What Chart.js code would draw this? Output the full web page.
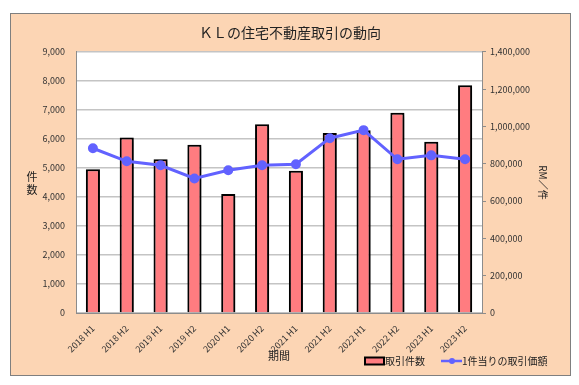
<!DOCTYPE html>
<html>
<head>
<meta charset="utf-8">
<script src="https://cdn.jsdelivr.net/npm/chart.js@4.4.0/dist/chart.umd.min.js"></script>
<style>
  body { margin: 0; background: #fff; }
  #wrap { width: 579px; height: 385px; }
</style>
</head>
<body>
<div id="wrap"><canvas id="context" width="579" height="385"></canvas></div>
<script>
// data
const periods = ["2018 H1", "2018 H2", "2019 H1", "2019 H2", "2020 H1", "2020 H2",
                 "2021 H1", "2021 H2", "2022 H1", "2022 H2", "2023 H1", "2023 H2"];
const dealCount = [4950, 6050, 5300, 5800, 4100, 6500, 4900, 6200, 6300, 6900, 5900, 7850];
const valuePerDeal = [883000, 813000, 792000, 721000, 765000, 792000, 797000, 937000, 980000, 824000, 845000, 824000];
const leftTicks = [0, 1000, 2000, 3000, 4000, 5000, 6000, 7000, 8000, 9000];
const rightTicks = [0, 200000, 400000, 600000, 800000, 1000000, 1200000, 1400000];

const font = "'Noto Sans CJK JP', 'Noto Sans', sans-serif";
const peach = "#FCD5B4";

// frame, left axis title, legend
const decor = {
  id: "decor",
  beforeDraw(chart) {
    let c = chart.ctx;
    c.save();
    c.fillStyle = "#fff";
    c.fillRect(0, 0, chart.width, chart.height);
    c.fillStyle = peach;
    c.fillRect(10, 13, 560, 362);
    c.strokeStyle = "#7f7f7f";
    c.lineWidth = 1;
    c.strokeRect(10.5, 13.5, 560, 362);
    let a = chart.chartArea;
    c.fillStyle = "#fff";
    c.fillRect(a.left, a.top, a.right - a.left, a.bottom - a.top);
    c.restore();
  },
  beforeDatasetDraw(chart, args) {
    if (args.meta.type == "bar") {
      let c = chart.ctx;
      c.save();
      c.shadowColor = "rgba(0,0,0,0.45)";
      c.shadowBlur = 4;
      c.shadowOffsetX = 2;
      c.shadowOffsetY = 2;
    }
  },
  afterDatasetDraw(chart, args) {
    if (args.meta.type == "bar") chart.ctx.restore();
  },
  afterDraw(chart) {
    let c = chart.ctx;
    c.save();
    c.fillStyle = "#222";
    c.font = "11px " + font;
    c.textAlign = "center";
    c.textBaseline = "middle";
    c.fillText("件", 32, 177);
    c.fillText("数", 32, 190);

    // legend
    let bar = chart.data.datasets[1];
    let line = chart.data.datasets[0];
    let y = 361;
    c.fillStyle = bar.backgroundColor;
    c.fillRect(365, y - 3.5, 19, 7);
    c.strokeStyle = "#000";
    c.lineWidth = 2;
    c.strokeRect(365, y - 3.5, 19, 7);
    c.fillStyle = "#222";
    c.textAlign = "left";
    c.font = "10px " + font;
    c.fillText(bar.label, 385, y);
    c.strokeStyle = line.borderColor;
    c.lineWidth = 2.5;
    c.beginPath();
    c.moveTo(441, y);
    c.lineTo(462, y);
    c.stroke();
    c.fillStyle = line.borderColor;
    c.beginPath();
    c.arc(452, y, 3, 0, Math.PI * 2);
    c.fill();
    c.fillStyle = "#222";
    c.fillText(line.label, 462, y);
    c.restore();
  }
};

Chart.defaults.font.family = font;
Chart.defaults.color = "#333";

const ctx = document.getElementById("context");
new Chart(ctx, {
  type: "bar",
  data: {
    labels: periods,
    datasets: [
      { type: "line", label: "1件当りの取引価額", data: valuePerDeal, yAxisID: "y1", order: 0,
        borderColor: "#6262FF", backgroundColor: "#6262FF", borderWidth: 3,
        pointRadius: 3.5, pointHoverRadius: 3.5, tension: 0 },
      { type: "bar", label: "取引件数", data: dealCount, yAxisID: "y", order: 1,
        backgroundColor: "#FF7C80", borderColor: "#000", borderWidth: 2,
        barPercentage: 0.52, categoryPercentage: 0.8 }
    ]
  },
  plugins: [decor],
  options: {
    responsive: false,
    animation: false,
    devicePixelRatio: 1,
    layout: { padding: { left: 10, top: 13, right: 9, bottom: 10 } },
    plugins: {
      legend: { display: false },
      tooltip: { enabled: false },
      title: {
        display: true,
        text: "ＫＬの住宅不動産取引の動向",
        color: "#222",
        font: { size: 14, weight: "normal" },
        padding: { top: 11, bottom: 11 }
      }
    },
    scales: {
      x: {
        grid: { display: false },
        border: { color: "#8c8c8c" },
        ticks: { font: { size: 9 }, maxRotation: 45, minRotation: 45, padding: 2 },
        title: { display: true, text: "期間", color: "#222", font: { size: 11 }, padding: { top: 0, bottom: 13 } },
        afterFit(s) { s.height = 62; }
      },
      y: {
        min: 0, max: 9000,
        afterBuildTicks(s) { s.ticks = leftTicks.map(v => ({ value: v })); },
        grid: { color: "#c4c4c4", lineWidth: 1.5, drawTicks: false },
        border: { color: "#8c8c8c" },
        ticks: { font: { size: 9 }, padding: 11, callback: v => v.toLocaleString("en-US") },
        afterFit(s) { s.width = 66; }
      },
      y1: {
        position: "right",
        min: 0, max: 1400000,
        afterBuildTicks(s) { s.ticks = rightTicks.map(v => ({ value: v })); },
        grid: { drawOnChartArea: false, tickLength: 4, color: "#8c8c8c" },
        border: { color: "#8c8c8c" },
        ticks: { font: { size: 9 }, padding: 4, callback: v => v.toLocaleString("en-US") },
        title: { display: true, text: "RM／件", color: "#222", font: { size: 10 }, padding: { top: 21, bottom: 0 } },
        afterFit(s) { s.width = 88; }
      }
    }
  }
});
</script>
</body>
</html>
